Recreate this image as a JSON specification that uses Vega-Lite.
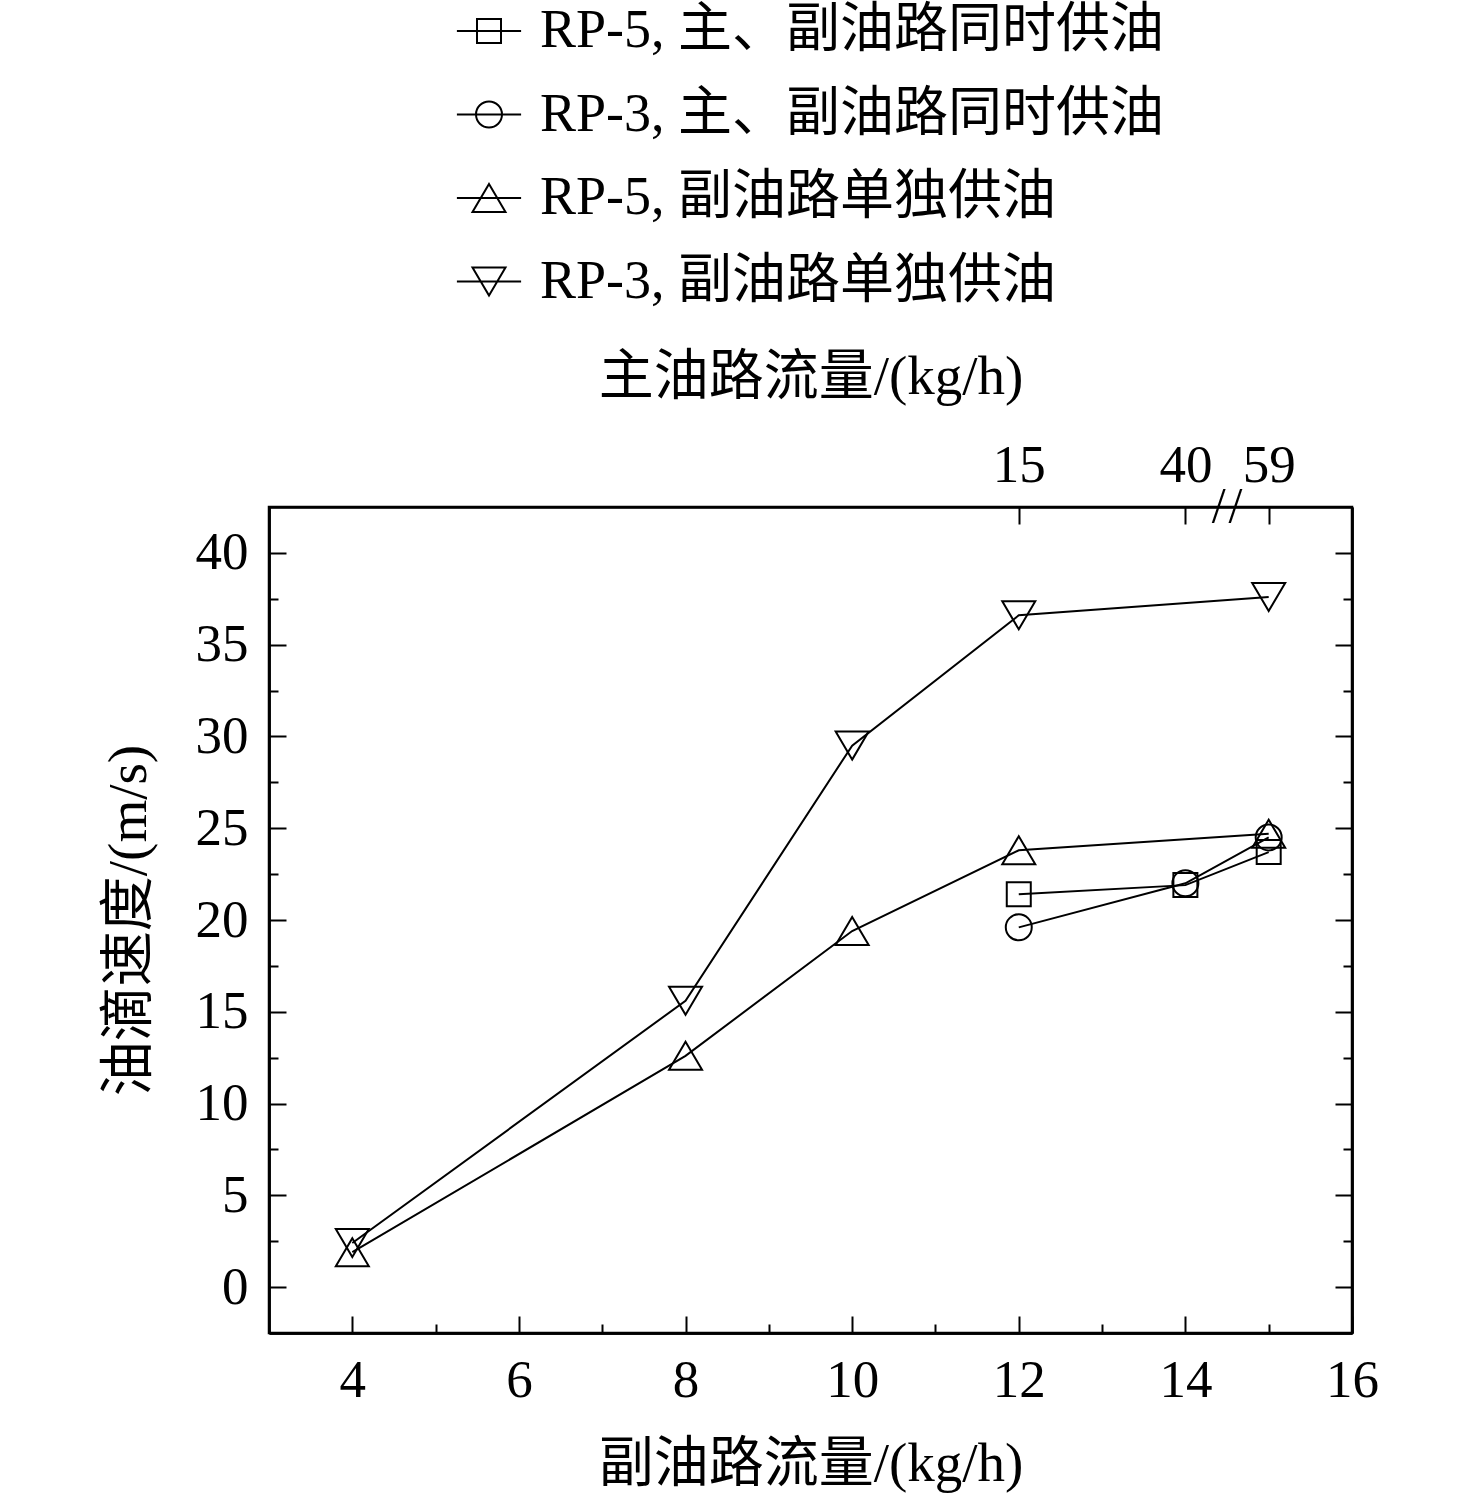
{
  "$schema": "https://vega.github.io/schema/vega-lite/v6.json",
  "width": 1083,
  "height": 826,
  "autosize": {"type": "none"},
  "padding": {"left": 269, "top": 507, "right": 124, "bottom": 163},
  "background": "white",
  "data": {
    "values": [
      {"series": "RP-5, 主、副油路同时供油", "x": 12, "y": 21.4},
      {"series": "RP-5, 主、副油路同时供油", "x": 14, "y": 21.9},
      {"series": "RP-5, 主、副油路同时供油", "x": 15, "y": 23.7},
      {"series": "RP-3, 主、副油路同时供油", "x": 12, "y": 19.6},
      {"series": "RP-3, 主、副油路同时供油", "x": 14, "y": 22.0},
      {"series": "RP-3, 主、副油路同时供油", "x": 15, "y": 24.5},
      {"series": "RP-5, 副油路单独供油", "x": 4, "y": 1.9},
      {"series": "RP-5, 副油路单独供油", "x": 8, "y": 12.6},
      {"series": "RP-5, 副油路单独供油", "x": 10, "y": 19.4},
      {"series": "RP-5, 副油路单独供油", "x": 12, "y": 23.8},
      {"series": "RP-5, 副油路单独供油", "x": 15, "y": 24.7},
      {"series": "RP-3, 副油路单独供油", "x": 4, "y": 2.4},
      {"series": "RP-3, 副油路单独供油", "x": 8, "y": 15.6},
      {"series": "RP-3, 副油路单独供油", "x": 10, "y": 29.5},
      {"series": "RP-3, 副油路单独供油", "x": 12, "y": 36.6},
      {"series": "RP-3, 副油路单独供油", "x": 15, "y": 37.6}
    ]
  },
  "layer": [
    {
      "mark": {"type": "line", "color": "black", "strokeWidth": 2},
      "encoding": {
        "x": {
          "field": "x", "type": "quantitative",
          "scale": {"domain": [3, 16], "nice": false, "zero": false},
          "axis": {
            "orient": "bottom",
            "values": [4, 6, 8, 10, 12, 14, 16],
            "tickSize": -17,
            "labelPadding": 38,
            "labelFlush": false,
            "title": "副油路流量/(kg/h)",
            "titlePadding": 30
          }
        },
        "y": {
          "field": "y", "type": "quantitative",
          "scale": {"domain": [-2.5, 42.5], "nice": false, "zero": false},
          "axis": {
            "orient": "left",
            "values": [0, 5, 10, 15, 20, 25, 30, 35, 40],
            "tickSize": -17,
            "labelPadding": 38,
            "labelFlush": false,
            "title": "油滴速度/(m/s)",
            "titlePadding": 38
          }
        },
        "detail": {"field": "series"},
        "order": {"field": "x"}
      }
    },
    {
      "mark": {"type": "point", "filled": false, "stroke": "black", "strokeWidth": 2, "size": 3600, "opacity": 1},
      "encoding": {
        "x": {
          "field": "x", "type": "quantitative",
          "axis": {
            "orient": "top",
            "values": [12, 14, 15],
            "labelExpr": "datum.value == 12 ? '15' : datum.value == 14 ? '40' : '59'",
            "tickSize": -17,
            "labelPadding": 32,
            "labelFlush": false,
            "title": "主油路流量/(kg/h)",
            "titlePadding": 34
          }
        },
        "y": {
          "field": "y", "type": "quantitative",
          "axis": {
            "orient": "right",
            "values": [0, 5, 10, 15, 20, 25, 30, 35, 40],
            "tickSize": -17,
            "labels": false,
            "title": null
          }
        },
        "shape": {
          "field": "series", "type": "nominal",
          "scale": {
            "domain": ["RP-5, 主、副油路同时供油", "RP-3, 主、副油路同时供油", "RP-5, 副油路单独供油", "RP-3, 副油路单独供油"],
            "range": [
              "M-0.4,-0.4H0.4V0.4H-0.4Z",
              "M-0.433,0A0.433,0.433,0,1,0,0.433,0A0.433,0.433,0,1,0,-0.433,0Z",
              "M0,-0.467L0.55,0.467L-0.55,0.467Z",
              "M0,0.467L0.55,-0.467L-0.55,-0.467Z"
            ]
          },
          "legend": null
        }
      }
    },
    {
      "data": {
        "values": [
          {"series": "RP-5, 主、副油路同时供油"},
          {"series": "RP-3, 主、副油路同时供油"},
          {"series": "RP-5, 副油路单独供油"},
          {"series": "RP-3, 副油路单独供油"}
        ]
      },
      "mark": {"type": "point", "filled": false, "stroke": "black", "strokeWidth": 2, "size": 3600, "invalid": "filter"},
      "encoding": {
        "x": {"field": "x", "type": "quantitative", "axis": null},
        "y": {"field": "y", "type": "quantitative", "axis": null},
        "shape": {
          "field": "series", "type": "nominal",
          "scale": {
            "domain": ["RP-5, 主、副油路同时供油", "RP-3, 主、副油路同时供油", "RP-5, 副油路单独供油", "RP-3, 副油路单独供油"],
            "range": [
              "M-1.07,0H1.07M-0.4,-0.4H0.4V0.4H-0.4Z",
              "M-1.07,0H1.07M-0.433,0A0.433,0.433,0,1,0,0.433,0A0.433,0.433,0,1,0,-0.433,0Z",
              "M-1.07,0H1.07M0,-0.467L0.55,0.467L-0.55,0.467Z",
              "M-1.07,0H1.07M0,0.467L0.55,-0.467L-0.55,-0.467Z"
            ]
          },
          "legend": {
            "orient": "none",
            "legendX": 189,
            "legendY": -507,
            "title": null,
            "padding": 0,
            "symbolSize": 3600,
            "symbolStrokeWidth": 2,
            "symbolStrokeColor": "black",
            "symbolFillColor": "transparent",
            "symbolOpacity": 1,
            "labelFontSize": 54,
            "labelOffset": 20,
            "rowPadding": 25.5,
            "labelLimit": 1000
          }
        }
      }
    },
    {
      "data": {"values": [{"x": 14.4, "y": 42.5, "t": "/"}]},
      "mark": {"type": "text", "fontSize": 50, "font": "Liberation Serif", "baseline": "middle", "align": "center", "color": "black"},
      "encoding": {
        "x": {
          "field": "x", "type": "quantitative",
          "axis": {"orient": "bottom", "values": [5, 7, 9, 11, 13, 15], "tickSize": -9, "labels": false, "title": null}
        },
        "y": {
          "field": "y", "type": "quantitative",
          "axis": {"orient": "left", "values": [2.5, 7.5, 12.5, 17.5, 22.5, 27.5, 32.5, 37.5], "tickSize": -9, "labels": false, "title": null}
        },
        "text": {"field": "t"}
      }
    },
    {
      "data": {"values": [{"x": 14.6, "y": 42.5, "t": "/"}]},
      "mark": {"type": "text", "fontSize": 50, "font": "Liberation Serif", "baseline": "middle", "align": "center", "color": "black"},
      "encoding": {
        "x": {"field": "x", "type": "quantitative", "axis": null},
        "y": {
          "field": "y", "type": "quantitative",
          "axis": {"orient": "right", "values": [2.5, 7.5, 12.5, 17.5, 22.5, 27.5, 32.5, 37.5], "tickSize": -9, "labels": false, "title": null}
        },
        "text": {"field": "t"}
      }
    }
  ],
  "resolve": {
    "scale": {"x": "shared", "y": "shared", "shape": "independent"},
    "axis": {"x": "independent", "y": "independent"}
  },
  "config": {
    "view": {"stroke": "black", "strokeWidth": 2.5},
    "axis": {
      "grid": false,
      "domainColor": "black",
      "domainWidth": 2.5,
      "tickColor": "black",
      "tickWidth": 2,
      "labelFont": "Liberation Serif, Noto Sans CJK SC",
      "labelFontSize": 53,
      "labelColor": "black",
      "titleFont": "Liberation Serif, Noto Sans CJK SC",
      "titleFontSize": 55,
      "titleFontWeight": "normal",
      "titleColor": "black"
    },
    "legend": {
      "labelFont": "Liberation Serif, Noto Sans CJK SC",
      "labelColor": "black"
    }
  }
}
